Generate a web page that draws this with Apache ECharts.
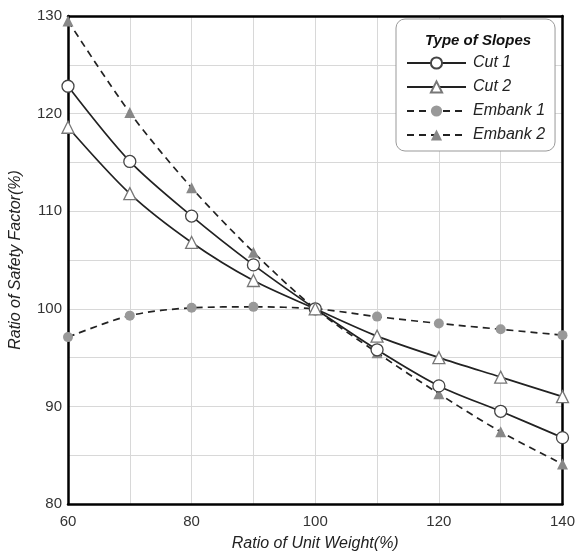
<!DOCTYPE html>
<html>
<head>
<meta charset="utf-8">
<script src="https://cdn.jsdelivr.net/npm/echarts@6/dist/echarts.min.js"></script>
<style>
  html, body { margin: 0; padding: 0; background: #fff; }
  #chart { width: 578px; height: 557px; }
</style>
</head>
<body>
<div id="chart"></div>
<script>
// Ratio of unit weight (%) on x, ratio of safety factor (%) on y
const unitWeight = [60, 70, 80, 90, 100, 110, 120, 130, 140];
const cut1 = [122.8, 115.1, 109.5, 104.5, 100, 95.8, 92.1, 89.5, 86.8];
const cut2 = [118.6, 111.8, 106.8, 102.9, 100, 97.2, 95.0, 93.0, 91.0];
const embank1 = [97.1, 99.3, 100.1, 100.2, 100, 99.2, 98.5, 97.9, 97.3];
const embank2 = [129.5, 120.1, 112.4, 105.8, 100, 95.5, 91.3, 87.4, 84.1];

const font = 'Liberation Sans, Arial, sans-serif';

function pairs(ys) {
    return unitWeight.map((x, i) => [x, ys[i]]);
}

function makeSeries(name, ys, dashed, symbol, size, fill, border) {
    return {
        name: name,
        type: 'line',
        data: pairs(ys),
        smooth: 0.3,
        symbol: symbol,
        symbolSize: size,
        lineStyle: { color: '#222', width: 1.7, type: dashed ? [7, 5] : 'solid' },
        itemStyle: { color: fill, borderColor: border, borderWidth: border ? 1.3 : 0 },
        emphasis: { disabled: true },
        z: dashed ? 2 : 3
    };
}

// plain black frame line for the top and right sides
function frameAxis(pos) {
    return {
        type: 'value', position: pos, min: pos === 'top' ? 60 : 80, max: pos === 'top' ? 140 : 130,
        axisLine: { show: true, onZero: false, lineStyle: { color: '#000', width: 2.5 } },
        axisTick: { show: false }, axisLabel: { show: false }, splitLine: { show: false }
    };
}

const chart = echarts.init(document.getElementById('chart'));

chart.setOption({
    animation: false,
    textStyle: { fontFamily: font },
    grid: { left: 66, right: 13, top: 16, bottom: 48 },
    xAxis: [{
        type: 'value', min: 60, max: 140, interval: 10,
        name: 'Ratio of Unit Weight(%)', nameLocation: 'middle', nameGap: 32,
        nameTextStyle: { fontSize: 16, fontStyle: 'italic', color: '#222' },
        axisLine: { onZero: false, lineStyle: { color: '#000', width: 2.5 } },
        axisTick: { show: false },
        axisLabel: {
            fontSize: 15, color: '#333', margin: 10,
            formatter: v => (v % 20 === 0 ? String(v) : '')
        },
        splitLine: { lineStyle: { color: '#d8d8d8', width: 1 } }
    }, frameAxis('top')],
    yAxis: [{
        type: 'value', min: 80, max: 130, interval: 5,
        name: 'Ratio of Safety Factor(%)', nameLocation: 'middle', nameGap: 44,
        nameTextStyle: { fontSize: 16, fontStyle: 'italic', color: '#222' },
        axisLine: { show: true, onZero: false, lineStyle: { color: '#000', width: 2.5 } },
        axisTick: { show: false },
        axisLabel: {
            fontSize: 15, color: '#333', margin: 6,
            formatter: v => (v % 10 === 0 ? String(v) : '')
        },
        splitLine: { lineStyle: { color: '#d8d8d8', width: 1 } }
    }, frameAxis('right')],
    legend: {
        orient: 'vertical',
        left: 396, top: 19,
        width: 162,
        padding: [36, 10, 8, 10],
        itemGap: 8,
        itemWidth: 59,
        itemHeight: 14,
        backgroundColor: '#fff',
        borderColor: '#999',
        borderWidth: 1,
        borderRadius: 9,
        textStyle: { fontSize: 16, fontStyle: 'italic', color: '#222', padding: [0, 0, 0, 2] },
        data: ['Cut 1', 'Cut 2', 'Embank 1', 'Embank 2']
    },
    graphic: [{
        type: 'text',
        left: 425, top: 33,
        z: 100,
        style: {
            text: 'Type of Slopes',
            font: 'italic bold 15px ' + font,
            fill: '#111'
        }
    }],
    series: [
        makeSeries('Cut 1', cut1, false, 'circle', 12, '#fff', '#444'),
        makeSeries('Cut 2', cut2, false, 'triangle', 12, '#fff', '#777'),
        makeSeries('Embank 1', embank1, true, 'circle', 10, '#999', null),
        makeSeries('Embank 2', embank2, true, 'triangle', 11, '#888', null)
    ]
});
</script>
</body>
</html>
